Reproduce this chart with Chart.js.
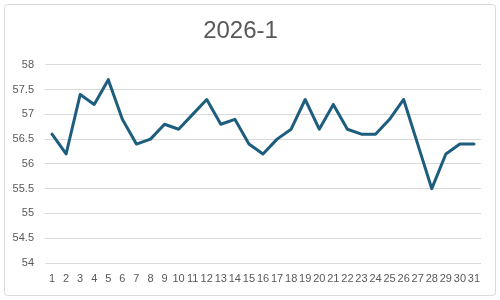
<!DOCTYPE html>
<html>
<head>
<meta charset="utf-8">
<script src="https://cdn.jsdelivr.net/npm/chart.js@4"></script>
<style>
  html, body { margin: 0; padding: 0; background: #fff; }
  #wrap { width: 500px; height: 300px; }
</style>
</head>
<body>
<div id="wrap"><canvas id="dayChart" width="500" height="300"></canvas></div>
<script>
// data
var chartTitle = '2026-1';
var dayLabels = ['1','2','3','4','5','6','7','8','9','10','11','12','13','14','15','16',
    '17','18','19','20','21','22','23','24','25','26','27','28','29','30','31'];
var dayValues = [56.6, 56.2, 57.4, 57.2, 57.7, 56.9, 56.4, 56.5, 56.8, 56.7, 57.0, 57.3,
    56.8, 56.9, 56.4, 56.2, 56.5, 56.7, 57.3, 56.7, 57.2, 56.7, 56.6, 56.6, 56.9, 57.3,
    56.4, 55.5, 56.2, 56.4, 56.4];
var yMin = 54, yMax = 58, yStep = 0.5;

var textColor = '#595959';
var gridColor = '#d9d9d9';
var tickFont = "'Liberation Sans', Arial, sans-serif";

// white background + light rounded frame, like the Excel chart box
var frame = {
    id: 'frame',
    beforeDraw: function (chart) {
        var c = chart.ctx;
        c.save();
        c.fillStyle = '#fff';
        c.fillRect(0, 0, chart.width, chart.height);
        c.strokeStyle = gridColor;
        c.lineWidth = 1;
        c.beginPath();
        c.roundRect(4.5, 4.5, 491, 291, 3);
        c.stroke();
        c.restore();
    }
};

var ctx = document.getElementById('dayChart').getContext('2d');
var dayChart = new Chart(ctx, {
    type: 'line',
    data: {
        labels: dayLabels,
        datasets: [{
            data: dayValues,
            borderColor: '#1d5e7f',
            borderWidth: 3,
            borderJoinStyle: 'round',
            borderCapStyle: 'round',
            pointRadius: 0,
            tension: 0,
            fill: false
        }]
    },
    options: {
        responsive: false,
        animation: false,
        layout: { padding: { left: 0, right: 19, top: 0, bottom: 0 } },
        plugins: {
            legend: { display: false },
            tooltip: { enabled: false },
            title: {
                display: true,
                text: chartTitle,
                color: textColor,
                font: { family: tickFont, size: 24, weight: 'normal', lineHeight: 1.2 },
                padding: { top: 17, bottom: 19 }
            }
        },
        scales: {
            x: {
                offset: true,
                grid: { display: false, drawTicks: false },
                border: { display: false },
                ticks: {
                    color: textColor,
                    font: { family: tickFont, size: 11 },
                    padding: 9,
                    autoSkip: false,
                    maxRotation: 0
                },
                afterFit: function (scale) { scale.height = 37; }
            },
            y: {
                min: yMin,
                max: yMax,
                grid: { color: gridColor, lineWidth: 1, drawTicks: false },
                border: { display: false },
                ticks: {
                    stepSize: yStep,
                    color: textColor,
                    font: { family: tickFont, size: 11 },
                    padding: 11,
                    callback: function (v) { return String(Math.round(v * 10) / 10); }
                },
                afterFit: function (scale) { scale.width = 45; }
            }
        }
    },
    plugins: [frame]
});
</script>
</body>
</html>
